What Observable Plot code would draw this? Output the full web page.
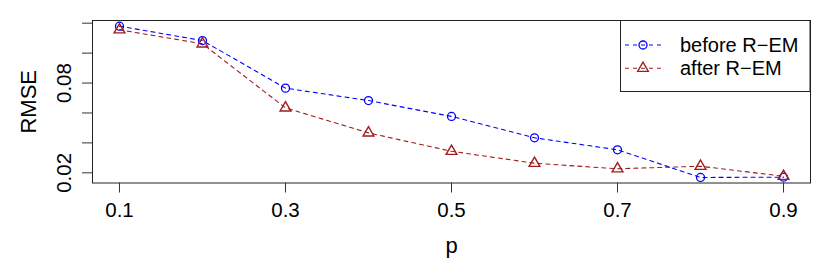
<!DOCTYPE html>
<html><head><meta charset="utf-8">
<script src="https://cdn.jsdelivr.net/npm/d3@7"></script>
<script src="https://cdn.jsdelivr.net/npm/@observablehq/plot@0.6"></script>
<style>html,body{margin:0;padding:0;background:#fff} svg{display:block}</style>
</head><body><div id="chart"></div>
<script>
const pValues = [0.1, 0.2, 0.3, 0.4, 0.5, 0.6, 0.7, 0.8, 0.9];
const beforeREM = [0.1180, 0.1084, 0.0766, 0.0683, 0.0577, 0.0434, 0.0354, 0.0169, 0.0171];
const afterREM  = [0.1156, 0.1062, 0.0634, 0.0467, 0.0344, 0.0264, 0.0227, 0.0244, 0.0177];
const xTicks = [0.1, 0.3, 0.5, 0.7, 0.9];
const yTicks = [0.02, 0.04, 0.06, 0.08, 0.10, 0.12];
const yTickLabels = ["0.02", "", "", "0.08", "", ""];
const seriesNames = ["before R\u2212EM", "after R\u2212EM"];
const seriesColors = ["#0000ff", "#a01c1c"];
const xLabel = "p";
const yLabel = "RMSE";

const beforeRows = pValues.map((p, i) => ({p, rmse: beforeREM[i]}));
const afterRows = pValues.map((p, i) => ({p, rmse: afterREM[i]}));

const font = "'Liberation Sans', Arial, Helvetica, sans-serif";

const chart = Plot.plot({
  width: 830, height: 277,
  marginLeft: 92, marginRight: 20, marginTop: 20, marginBottom: 94.5,
  style: {fontFamily: font, background: "#fff", color: "#000"},
  x: {domain: [0.0675, 0.9325]},
  y: {domain: [0.0132, 0.1218]},
  marks: [
    Plot.frame({stroke: "#222", strokeWidth: 1}),
    Plot.axisX(xTicks, {tickSize: 10, tickPadding: 9, fontSize: 20.5, tickFormat: d => d.toFixed(1), label: null, stroke: "#333", strokeWidth: 1}),
    Plot.axisY(yTicks, {tickSize: 10, tickPadding: 12, fontSize: 20.5, tickRotate: -90,
      tickFormat: (d) => yTickLabels[yTicks.indexOf(d)], label: null, stroke: "#333", strokeWidth: 1}),
    Plot.line(beforeRows, {x: "p", y: "rmse", stroke: seriesColors[0], strokeWidth: 1.1, strokeDasharray: "4,4"}),
    Plot.line(afterRows, {x: "p", y: "rmse", stroke: seriesColors[1], strokeWidth: 1.1, strokeDasharray: "4,4"}),
    Plot.dot(beforeRows, {x: "p", y: "rmse", r: 4, stroke: seriesColors[0], fill: "none", strokeWidth: 1.3}),
    Plot.dot(afterRows, {x: "p", y: "rmse", r: 4, symbol: "triangle", stroke: seriesColors[1], fill: "none", strokeWidth: 1.4}),
    Plot.text([yLabel], {frameAnchor: "left", text: d => d, rotate: -90, dx: -57, fontSize: 22, textAnchor: "middle", lineAnchor: "bottom"}),
    Plot.text([xLabel], {frameAnchor: "bottom", text: d => d, dy: 69.5, fontSize: 22, textAnchor: "middle", lineAnchor: "bottom"})
  ]
});
document.getElementById("chart").appendChild(chart);

// legend inside the plot, top-right
const svg = d3.select(chart);
const lg = svg.append("g").attr("font-family", font).attr("font-size", 20).attr("text-anchor", "start");
lg.append("rect").attr("x", 620.5).attr("y", 20.5).attr("width", 189.5).attr("height", 71)
  .attr("fill", "#fff").attr("stroke", "#222").attr("stroke-width", 1);
const entryY = [45, 68.3];
seriesNames.forEach((name, i) => {
  const y = entryY[i];
  lg.append("line").attr("x1", 625).attr("x2", 661).attr("y1", y).attr("y2", y)
    .attr("stroke", seriesColors[i]).attr("stroke-dasharray", "4,4").attr("stroke-width", 1.1);
  const sym = i === 0 ? d3.symbolCircle : d3.symbolTriangle;
  const size = Math.PI * 4 * 4;
  lg.append("path").attr("d", d3.symbol(sym, size)()).attr("transform", `translate(643,${y})`)
    .attr("fill", "none").attr("stroke", seriesColors[i]).attr("stroke-width", 1.3);
  lg.append("text").attr("x", 680).attr("y", y + 6.8).attr("fill", "#000")
    .attr("text-anchor", "start").text(name);
});
</script>
</body></html>
